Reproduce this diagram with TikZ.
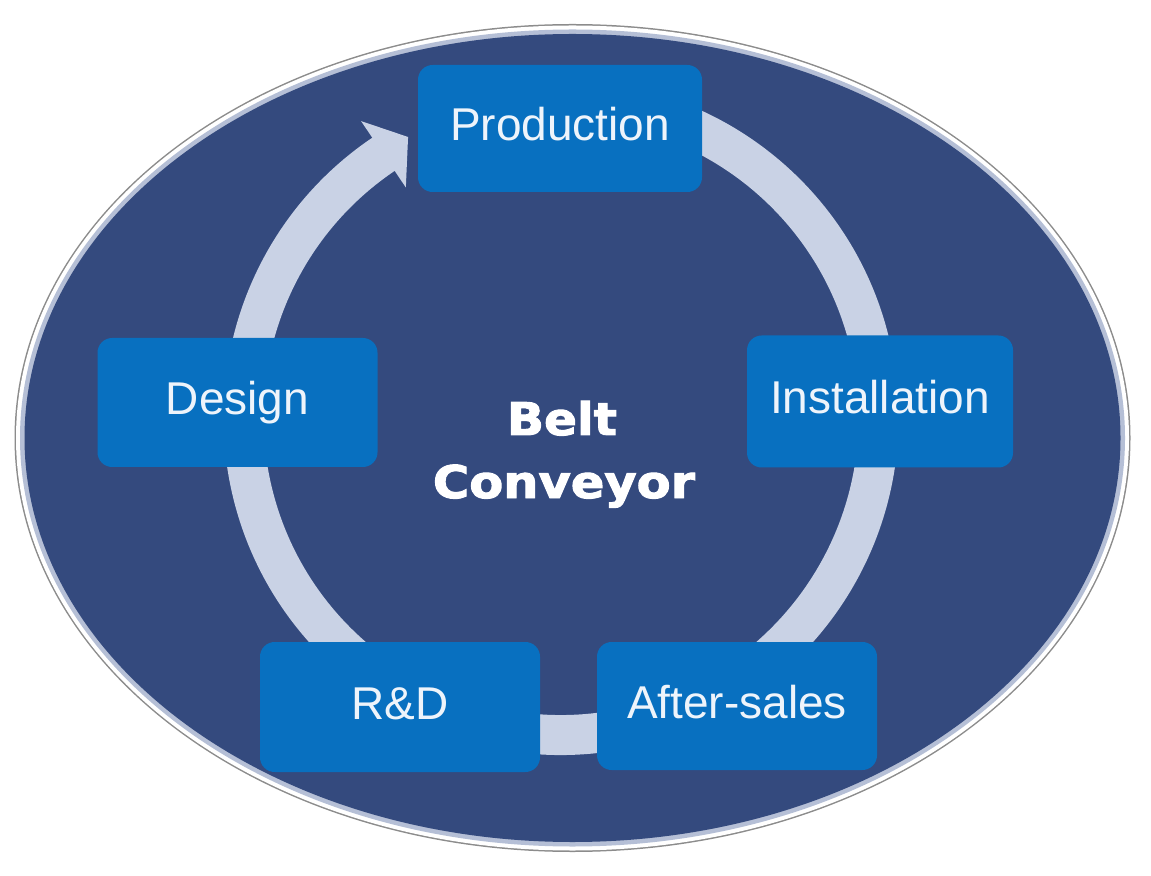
\documentclass[tikz,border=0pt]{standalone}
\usepackage{fontspec}
\setmainfont{Liberation Sans}
\newfontfamily\titlefont[BoldFeatures={FakeBold=2.2}]{DejaVu Sans}
\usepackage{graphicx}
\definecolor{navy}{HTML}{344A7E}
\definecolor{boxblue}{HTML}{0870C0}
\definecolor{ringcol}{HTML}{C9D2E5}
\definecolor{boxtext}{HTML}{EEF4FB}
\definecolor{paleband}{HTML}{B5BFD6}
\definecolor{edgegray}{HTML}{8C8C8C}
\begin{document}
\begin{tikzpicture}[x=0.75pt,y=0.75pt,
  box/.style={fill=boxblue, rounded corners=11pt, inner sep=0pt, text=boxtext,
    font=\fontsize{34.5pt}{40pt}\selectfont, text height=24.7pt, text depth=6pt},
  ring/.style={draw=ringcol, line width=30pt},
  title/.style={text=white, inner sep=0pt, anchor=base,
    font=\titlefont\bfseries\fontsize{33.75pt}{40pt}\selectfont}]
\fill[white] (0,0) rectangle (1151,875);
\useasboundingbox (0,0) rectangle (1151,875);
% outer ellipse with bevelled border
\fill[edgegray] (572.5,437) ellipse [x radius=558, y radius=414];
\fill[white] (572.5,437) ellipse [x radius=556.5, y radius=412.5];
\fill[paleband] (572.5,437) ellipse [x radius=552.5, y radius=408.5];
\fill[navy] (572.5,437) ellipse [x radius=548, y radius=404];
% cycle ring with arrow
\coordinate (rc) at (561,457.5);
\draw[ring] ([shift={(100:317.5)}]rc) arc[start angle=100, end angle=-236.5, radius=317.5];
\fill[ringcol] ([shift={(124:357.5)}]rc) -- ([shift={(118.6:319.5)}]rc) -- ([shift={(124:277.5)}]rc) -- cycle;
% boxes
\node[box, minimum width=213pt, minimum height=95.25pt] (prod) at (560,746.5) {Production};
\node[box, minimum width=210pt, minimum height=96.75pt] (design) at (237.5,472.5) {Design};
\node[box, minimum width=199.5pt, minimum height=99pt] (inst) at (880,473.5) {Installation};
\node[box, minimum width=210pt, minimum height=97.5pt] (rd) at (400,168) {R\&D};
\node[box, minimum width=210pt, minimum height=96pt] (after) at (737,169) {After-sales};
% title
\node[title] (t1) at (562,440) {\scalebox{1.08}[1]{Belt}};
\node[title] (t2) at (564,377) {\scalebox{1.1}[1]{Conveyor}};
\end{tikzpicture}
\end{document}
